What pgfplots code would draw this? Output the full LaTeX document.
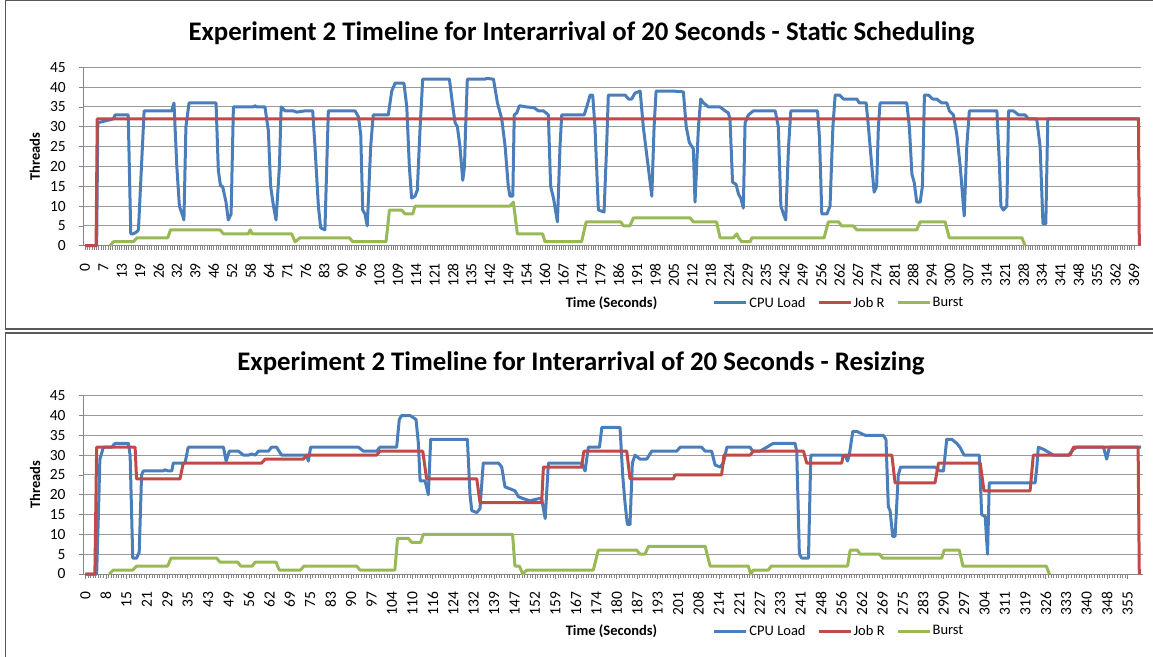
\documentclass[border=0pt]{standalone}
\usepackage{pgfplots}
\pgfplotsset{compat=1.18}
\usepackage{fontspec}
\setmainfont{Carlito}
\definecolor{cpublue}{HTML}{4A7EBB}
\definecolor{jobred}{HTML}{BE4B48}
\definecolor{burstgreen}{HTML}{98B954}
\definecolor{axgray}{HTML}{868686}
\definecolor{gridgray}{HTML}{9A9A9A}
\definecolor{framegray}{HTML}{595959}

\pgfplotsset{
  exstyle/.style={
    scale only axis,
    clip=false,
    axis x line*=bottom, axis y line*=left,
    axis line style={draw=axgray, line width=1pt, -},
    ymin=0, ymax=45, ytick={0,5,...,45},
    ymajorgrids, grid style={draw=gridgray, line width=0.9pt},
    tick align=outside,
    major tick length=4.5pt, minor tick length=4pt,
    every tick/.style={draw=axgray, line width=0.7pt},
    minor x tick num=7,
    /pgf/number format/assume math mode=true,
    xticklabel style={font=\fontsize{15.5}{18}\selectfont, text=black, rotate=90, anchor=east, inner xsep=0pt, inner ysep=0pt, outer sep=0pt},
    yticklabel style={font=\fontsize{15.5}{18}\selectfont, text=black, anchor=east, inner sep=0pt, outer sep=0pt},
    xticklabel shift=13pt,
    yticklabel shift=13pt,
    label style={font=\fontsize{14.5}{17}\selectfont\bfseries},
    xlabel={Time (Seconds)}, ylabel={Threads},
    legend columns=3,
    legend cell align=left,
    legend image code/.code={\draw[##1, line width=3pt] (0pt,0pt) -- (32pt,0pt);},
    legend style={draw=none, fill=none, inner sep=0pt, outer sep=0pt,
      font=\fontsize{14.5}{17}\selectfont, column sep=0pt,
      /tikz/every even column/.append style={column sep=10pt},
      nodes={inner sep=1.5pt}},
    every axis plot/.append style={line width=3pt, line join=round, mark=none},
  },
}

\begin{document}
\begin{tikzpicture}
\path[use as bounding box] (0pt,0pt) rectangle (1153pt,656pt);
% panel frames
\draw[framegray, line width=1.5pt] (5.5pt,327pt) rectangle (1180pt,655.5pt);
\draw[framegray, line width=1.5pt] (5.5pt,-20pt) rectangle (1180pt,323pt);
\node[font=\fontsize{26.8}{31}\selectfont\bfseries] at (581.5pt,623pt) {Experiment 2 Timeline for Interarrival of 20 Seconds - Static Scheduling};
\node[font=\fontsize{26.8}{31}\selectfont\bfseries] at (581pt,293pt) {Experiment 2 Timeline for Interarrival of 20 Seconds - Resizing};

% ---------------- Top: Static Scheduling ----------------
\begin{axis}[exstyle,
  at={(83.3pt,410.3pt)}, anchor=south west,
  width=1057.7pt, height=178.4pt,
  xmin=-0.6, xmax=371.5,
  xtick={0,6.473684,...,369.5},
  xticklabels={0,7,13,19,26,32,39,46,52,58,64,71,76,83,90,96,103,109,114,121,128,135,142,149,154,160,167,174,179,186,191,198,205,212,218,224,229,235,242,249,256,262,267,274,281,288,294,300,307,314,321,328,334,341,348,355,362,369},
  xlabel style={at={(axis description cs:0.4994,-0.321)}, anchor=center},
  ylabel style={at={(axis description cs:-0.0457,0.5)}, anchor=center},
  legend style={at={(axis description cs:0.5953,-0.321)}, anchor=west},
]
\addplot[cpublue] coordinates {
(0,0) (4.1,0) (4.5,31) (10.0,32) (10.6,33) (15.2,33) (16.1,3) (17.0,3) (18.2,3.5) (18.8,4) (20.8,34) (30.5,34) (31.3,36) (32.3,20) (33.2,10) (34.4,7.5) (34.8,6.5) (35.5,30) (36.6,36) (46.1,36) (46.9,19) (47.7,15) (48.4,15) (49.6,11) (50.4,6.5) (51.4,8) (52.2,35) (59.2,35) (59.8,35.3) (60.5,35) (63.3,35) (64.5,29) (65.3,15) (66.3,10) (67.2,6.5) (68.4,20) (69.0,35) (70.4,34) (73.3,34) (74.5,33.7) (77.4,34) (80.1,34) (80.9,25) (82.1,10) (82.9,4.5) (84.4,4) (85.6,34) (95.0,34) (96.2,32.5) (97.0,28) (97.7,9) (98.5,8) (99.3,5) (100.5,25) (101.4,33) (106.7,33) (107.9,39) (109.1,41)
(112.2,41) (113.2,35) (114.1,20) (114.9,12) (116.1,12.5) (116.9,14) (117.9,30) (118.8,42) (128.2,42) (129.4,35) (130.2,31) (131.0,30) (131.9,25) (132.9,16.5) (133.5,20) (133.9,30) (134.5,42) (140.7,42) (141.3,42.2) (143.7,42) (145.1,36) (146.6,32) (147.8,25) (148.9,15) (149.5,12.5) (150.5,12.5) (151.0,33) (151.9,33.5) (152.8,35.3) (155.4,35) (158.0,34.8) (159.5,34) (161.3,34) (163.0,33) (163.8,15) (164.8,12) (166.2,6) (167.1,25) (167.7,33) (175.6,33) (176.5,35) (177.7,38) (178.6,38) (179.4,30) (180.6,9) (182.6,8.5) (183.5,25) (184.1,38) (190.0,38) (191.2,37) (192.3,37) (193.5,38.5) (195.3,39) (196.4,30) (197.6,23) (199.4,12.5) (200.2,30) (200.9,39) (207.0,39) (210.5,38.8) (211.5,30) (212.6,26) (213.5,25) (214.0,24.5) (214.6,11) (215.8,30) (216.6,37) (217.6,36) (219.3,35) (223.4,35) (225.2,34) (226.3,33.5) (226.9,32) (227.8,16) (229.0,15.5) (229.9,13) (230.7,12) (231.6,9.5) (232.2,31) (233.4,33) (235.1,34) (242.8,34)
(243.9,30) (244.8,10) (245.7,8) (246.5,6.5) (247.5,25) (248.3,34) (257.7,34) (258.4,27) (259.2,8) (261.0,8) (262.1,10) (263.1,30) (263.9,38) (265.4,38) (266.8,37) (271.5,37) (272.4,36) (274.8,36) (275.6,30) (276.8,20) (277.6,13.5) (278.5,15) (279.1,30) (279.7,36) (283.8,36) (289.1,36) (290.0,30) (290.9,18) (291.7,16) (292.6,11) (293.8,11) (294.6,15) (295.3,38) (296.7,38) (298.2,37) (299.6,37) (301.4,36) (303.2,36) (304.1,34) (305.5,33) (306.7,28) (307.9,20) (309.3,7.5) (310.2,25) (311.1,34) (320.8,34) (321.7,20) (322.2,10) (323.1,9) (324.3,10) (324.9,34) (326.6,34) (328.4,33) (330.7,33) (331.9,32) (334.8,32) (336.0,25) (337.0,5.5) (338.0,5.5) (338.7,32) (371.2,32)
};
\addlegendentry{CPU Load}
\addplot[jobred] coordinates {
(0,0) (3.9,0) (4.3,32) (370.6,32) (370.9,0)
};
\addlegendentry{Job R}
\addplot[burstgreen] coordinates {
(8.8,0) (10.0,1) (17.0,1) (18.4,2) (29.1,2) (30.1,4) (47.5,4) (48.7,3) (57.5,3) (58.1,4) (58.9,3) (72.7,3) (73.9,1) (75.7,2) (93.0,2) (94.2,1) (105.9,1) (107.1,9) (111.4,9) (112.6,8) (115.3,8) (116.1,10) (149.5,10) (150.7,11) (152.1,3) (161.0,3) (161.8,1) (174.7,1) (176.3,6) (188.5,6) (189.4,5) (191.7,5) (192.9,7) (212.9,7) (214.0,6) (222.2,6) (223.4,2) (228.1,2) (229.3,3) (229.9,2) (231.0,1) (234.0,1) (234.6,2) (260.0,2) (261.5,6) (265.1,6) (266.2,5) (270.3,5) (271.5,4) (292.6,4) (293.8,6) (302.6,6) (304.0,2) (329.6,2) (330.7,0)
};
\addlegendentry{Burst}
\end{axis}

% ---------------- Bottom: Resizing ----------------
\begin{axis}[exstyle,
  at={(83pt,82pt)}, anchor=south west,
  width=1059.5pt, height=178.3pt,
  xmin=-0.85, xmax=360.1,
  xtick={0,6.960784,...,356},
  xticklabels={0,8,15,21,29,35,43,49,56,62,69,75,83,90,97,104,110,116,124,132,139,147,152,159,167,174,180,187,193,201,208,214,221,227,233,241,248,256,262,269,275,283,290,297,304,311,319,326,333,340,348,355},
  xlabel style={at={(axis description cs:0.4988,-0.3197)}, anchor=center},
  ylabel style={at={(axis description cs:-0.0453,0.5)}, anchor=center},
  legend style={at={(axis description cs:0.5946,-0.3197)}, anchor=west},
]
\addplot[cpublue] coordinates {
(0,0) (3.8,0) (4.4,15) (4.9,29) (6.1,32) (8.9,32) (10.1,33) (14.6,33) (15.2,30) (16.1,4) (17.4,4) (18.3,5.5) (19.1,25) (19.7,26) (26.5,26) (27.0,26.3) (28.2,26) (29.4,26) (29.9,28) (33.9,28) (35.0,32) (47.0,32) (47.9,28.5) (49.0,31) (52.1,31) (53.8,30) (55.5,30) (56.6,30.3) (57.8,30) (58.9,31) (62.3,31) (63.4,32) (65.1,32) (66.8,30) (75.4,30) (75.9,28.5) (76.7,32) (93.0,32) (94.7,31) (99.2,31) (100.3,32) (106.0,32) (106.9,39) (107.7,40) (110.6,40) (112.6,39) (113.4,33) (114.0,23.5) (115.7,23.5) (116.8,20) (117.6,34) (130.1,34) (131.0,20) (131.6,16) (133.3,15.5) (134.4,16.5) (135.5,28) (140.7,28) (141.8,27) (142.9,22) (144.6,21.5) (146.3,21) (147.5,19.5) (149.2,19) (151.4,18.5) (154.3,19) (155.4,19) (156.6,14) (157.7,28) (169.0,28) (170.2,26) (171.3,32) (175.1,32) (175.9,37) (182.1,37) (183.0,25) (183.8,18) (184.6,12.5) (185.5,12.5) (186.3,28) (187.2,30) (188.9,29) (191.2,29) (192.9,31) (201.4,31) (202.6,32) (209.9,32) (211.1,31) (213.3,31) (214.5,27.5) (216.2,27) (217.3,28) (218.5,32) (226.4,32) (227.3,31) (229.8,31) (232.1,32) (233.2,32.5) (234.4,33) (241.7,33) (242.3,31) (243.2,5) (244.0,4) (246.3,4) (247.1,30) (257.6,30) (259.1,29.5) (259.6,28.5) (260.2,30) (261.4,36) (262.7,36) (265.6,35) (269.6,35) (271.8,35) (272.7,34) (273.5,17) (274.1,16) (275.0,9.5) (275.8,9.5) (276.9,25) (277.7,27) (289.4,27) (291.1,26) (292.3,26) (293.4,34) (295.1,34) (296.8,33) (297.9,32) (299.3,30) (304.5,30) (305.3,15) (306.5,14.5) (307.3,5) (307.9,23) (323.5,23) (324.1,27) (324.6,32) (326.3,31.5) (328.6,30.5) (329.8,30) (334.9,30) (336.6,31.5) (337.7,32) (346.8,32) (347.9,29) (348.8,32) (359.6,32)
};
\addlegendentry{CPU Load}
\addplot[jobred] coordinates {
(0,0) (3.2,0) (3.8,32) (16.9,32) (17.4,24) (32.2,24) (33.3,28) (60.0,28) (61.2,29) (74.2,29) (75.4,30) (99.2,30) (100.3,31) (114.9,31) (116.2,24) (133.3,24) (134.4,18) (155.4,18) (156.0,27) (169.0,27) (169.8,31) (184.4,31) (185.5,24) (200.3,24) (200.8,25) (216.7,25) (217.5,30) (226.4,30) (227.5,31) (244.6,31) (245.7,28) (257.6,28) (258.2,30) (274.7,30) (275.8,23) (289.4,23) (290.6,28) (304.8,28) (306.1,21) (321.8,21) (322.9,30) (335.4,30) (336.6,32) (358.6,32) (359.0,0)
};
\addlegendentry{Job R}
\addplot[burstgreen] coordinates {
(8.1,0) (9.5,1) (16.1,1) (17.4,2) (28.0,2) (29.1,4) (44.7,4) (45.8,3) (51.8,3) (52.9,2) (56.8,2) (57.8,3) (64.9,3) (66.0,1) (73.3,1) (74.4,2) (92.4,2) (93.5,1) (105.4,1) (106.3,9) (110.0,9) (111.1,8) (114.2,8) (115.1,10) (145.5,10) (146.3,2) (147.8,2) (149.0,0) (150.3,1) (173.0,1) (174.7,6) (187.8,6) (188.9,5) (190.6,5) (191.8,7) (211.1,7) (212.8,2) (225.8,2) (226.6,0) (227.5,1) (232.6,1) (233.6,2) (259.6,2) (260.5,6) (263.0,6) (263.9,5) (270.5,5) (271.6,4) (291.7,4) (292.5,6) (297.7,6) (298.9,2) (327.3,2) (328.4,0)
};
\addlegendentry{Burst}
\end{axis}
\end{tikzpicture}
\end{document}
